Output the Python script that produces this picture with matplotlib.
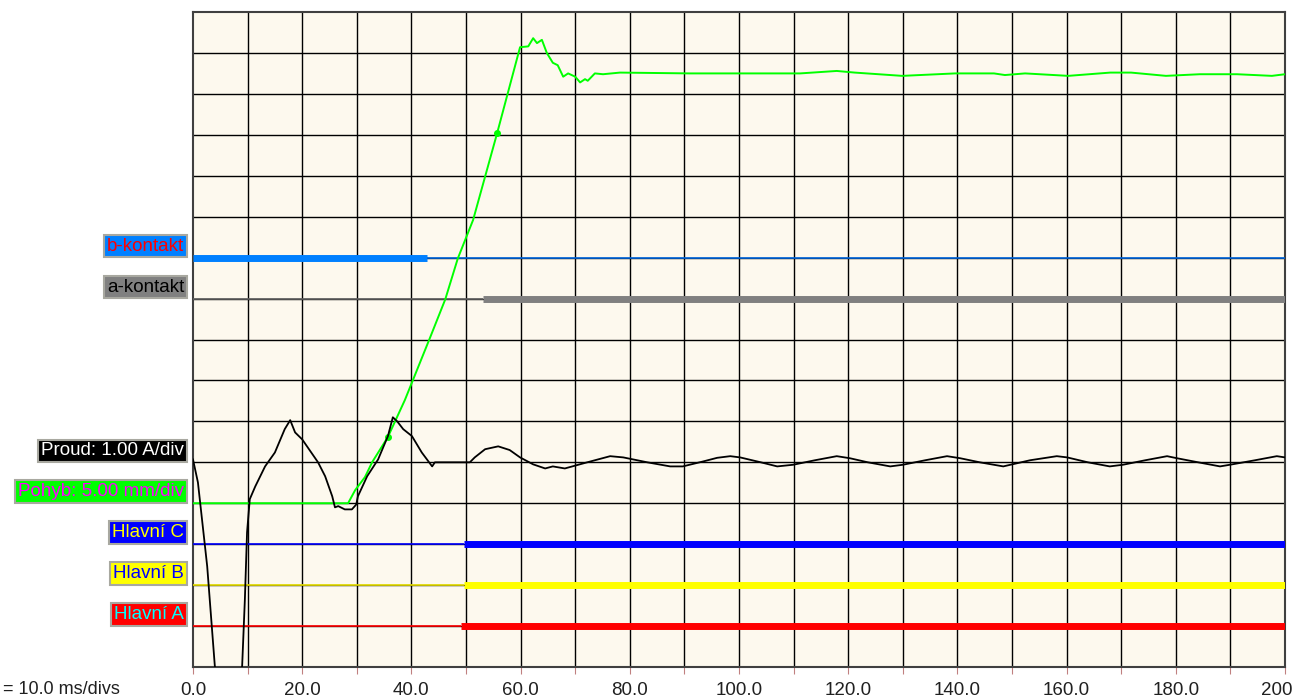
import numpy as np
import matplotlib
matplotlib.use("Agg")
import matplotlib.pyplot as plt
import matplotlib.transforms as mtransforms

plt.rcParams['font.family'] = ['Liberation Sans', 'DejaVu Sans']

# time axis (ms)
x_ticks = np.arange(0, 201, 10)
x_labels = ['%.1f' % v if v % 20 == 0 else '' for v in x_ticks]

# Proud (A), 1 A/div, baseline at division 5
proud_t = [0.0, 0.9, 2.6, 4.0, 6.5, 9.0, 9.5, 9.9, 10.4, 11.4, 13.2, 15.0, 16.8, 17.8, 18.7,
           20.0, 22.9, 24.2, 25.5, 26.0, 26.6, 27.8, 29.1, 29.9, 30.2, 31.9, 33.9, 35.7, 36.6,
           37.4, 38.5, 40.1, 41.9, 43.8, 44.3, 50.7, 51.6, 53.5, 55.9, 58.0, 59.9, 62.3, 64.5,
           65.9, 68.1, 72.2, 76.4, 78.8, 83.2, 87.4, 89.7, 93.4, 96.0, 98.4, 100.2, 104.0, 107.0,
           109.9, 113.9, 117.9, 120.3, 123.6, 127.7, 130.0, 134.1, 138.1, 140.5, 144.1, 148.4,
           153.3, 158.2, 160.1, 163.9, 167.9, 170.3, 174.4, 178.4, 180.2, 184.1, 188.1, 189.9,
           194.5, 198.5, 200.0]
proud_a = [0.07, -0.49, -2.54, -4.98, -6.5, -4.98, -3.35, -1.71, -0.90, -0.59, -0.10, 0.24, 0.81,
           1.03, 0.73, 0.56, 0.0, -0.34, -0.83, -1.10, -1.07, -1.15, -1.15, -1.03, -0.83, -0.34,
           0.07, 0.64, 1.10, 1.00, 0.81, 0.64, 0.24, -0.10, 0.0, 0.0, 0.12, 0.32, 0.39, 0.30,
           0.12, -0.05, -0.15, -0.10, -0.15, 0.0, 0.15, 0.12, 0.0, -0.10, -0.10, 0.02, 0.11, 0.15,
           0.12, 0.0, -0.10, -0.06, 0.05, 0.15, 0.10, 0.0, -0.10, -0.06, 0.05, 0.15, 0.10, 0.0,
           -0.10, 0.05, 0.15, 0.12, 0.0, -0.10, -0.06, 0.05, 0.15, 0.10, 0.0, -0.10, -0.06,
           0.05, 0.15, 0.12]

# Pohyb (mm), 5 mm/div, baseline at division 4
pohyb_t = [0.0, 28.4, 29.7, 31.5, 32.8, 35.7, 38.8, 43.4, 46.2, 48.5, 51.3, 55.7, 59.9, 61.4,
           62.3, 63.0, 63.9, 64.8, 65.9, 66.8, 67.8, 68.7, 70.0, 70.9, 71.8, 72.3, 73.6, 75.1,
           78.2, 91.0, 100.0, 111.2, 117.9, 121.2, 129.9, 139.6, 146.7, 148.7, 152.4, 160.3,
           168.0, 171.8, 178.2, 184.4, 191.2, 197.6, 200.0]
pohyb_mm = [0.0, 0.0, 1.6, 3.2, 5.0, 8.1, 12.6, 20.2, 24.9, 29.9, 34.6, 45.2, 55.7, 55.8,
            56.8, 56.2, 56.6, 55.0, 53.8, 53.5, 52.1, 52.5, 52.1, 51.4, 51.8, 51.6, 52.5, 52.4,
            52.6, 52.5, 52.5, 52.5, 52.8, 52.6, 52.2, 52.5, 52.5, 52.3, 52.5, 52.2,
            52.6, 52.6, 52.2, 52.4, 52.4, 52.2, 52.4]
pohyb_marks_t = [35.7, 55.7]
pohyb_marks_mm = [8.1, 45.2]

# digital channels: division, switch time (ms), thick before switch?
dig_names = ['b-kontakt', 'a-kontakt', 'Hlavní C', 'Hlavní B', 'Hlavní A']
dig_level = [10, 9, 3, 2, 1]
dig_switch = [42.8, 53.1, 49.6, 49.6, 49.0]
dig_thick_first = [True, False, False, False, False]
dig_color = ['#0080ff', '#808080', '#0000ff', '#ffff00', '#ff0000']
dig_thin_color = ['#0066dd', '#606060', '#0000ff', '#e8e000', '#ff0000']

# labels on the left
lab_text = ['b-kontakt', 'a-kontakt', 'Proud: 1.00 A/div', 'Pohyb: 5.00 mm/div',
            'Hlavní C', 'Hlavní B', 'Hlavní A']
lab_level = [10, 9, 5, 4, 3, 2, 1]
lab_bg = ['#0080ff', '#808080', '#000000', '#00ff00', '#0000ff', '#ffff00', '#ff0000']
lab_fg = ['#ff0000', '#000000', '#ffffff', '#ff00ff', '#ffff00', '#0000ff', '#00ffff']

fig = plt.figure(figsize=(12.92, 6.98), dpi=100)
ax = fig.add_axes([193 / 1292, 31 / 698, 1092 / 1292, 655 / 698])
ax.set_facecolor('#fdf9ee')
ax.set_xlim(0, 200)
ax.set_ylim(0, 16)

for v in x_ticks[1:-1]:
    ax.axvline(v, color='black', lw=1, zorder=1)
for v in range(1, 16):
    ax.axhline(v, color='black', lw=1, zorder=1)

for s in ax.spines.values():
    s.set_color('#404040')
    s.set_linewidth(1.5)

ax.set_xticks(x_ticks)
ax.set_xticklabels(x_labels, fontsize=13.5, color='#202020')
ax.tick_params(axis='x', direction='out', length=5, color='#c08080', pad=6)
ax.set_yticks([])

# digital channels
for lev, sw, thick_first, col, tcol in zip(dig_level, dig_switch, dig_thick_first, dig_color, dig_thin_color):
    if thick_first:
        ax.plot([0, sw], [lev, lev], color=col, lw=5, solid_capstyle='butt', zorder=3)
        ax.plot([sw, 200], [lev, lev], color=tcol, lw=1.2, solid_capstyle='butt', zorder=3)
    else:
        ax.plot([0, sw], [lev, lev], color=tcol, lw=1.2, solid_capstyle='butt', zorder=3)
        ax.plot([sw, 200], [lev, lev], color=col, lw=5, solid_capstyle='butt', zorder=3)

# analog channels
ax.plot(pohyb_t, 4 + np.array(pohyb_mm) / 5.0, color='#00ff00', lw=1.4, zorder=4)
ax.plot(pohyb_marks_t, 4 + np.array(pohyb_marks_mm) / 5.0, 'o', color='#00ff00', ms=4, zorder=4)
ax.plot(proud_t, 5 + np.array(proud_a), color='black', lw=1.3, zorder=5)

trans = mtransforms.blended_transform_factory(fig.transFigure, ax.transData)
for txt, lev, bg, fg in zip(lab_text, lab_level, lab_bg, lab_fg):
    ax.text(184 / 1292, lev + 0.28, txt, transform=trans, ha='right', va='center',
            fontsize=13.5, color=fg, clip_on=False,
            bbox=dict(boxstyle='square,pad=0.15', facecolor=bg, edgecolor='#a8a8a0', lw=1.5))

fig.text(3 / 1292, 8 / 698, '= 10.0 ms/divs', fontsize=13, color='#202020', ha='left', va='center')

fig.savefig('out.png', dpi=100)
